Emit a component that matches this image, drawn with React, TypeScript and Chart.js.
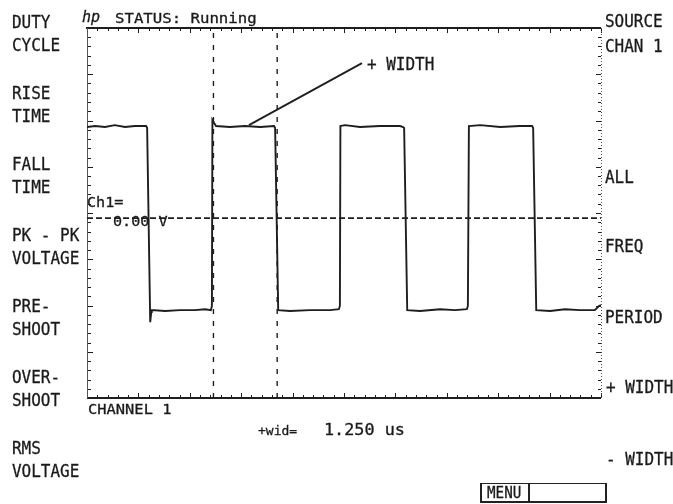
import React, { useEffect, useRef } from "react";
import { Chart, registerables } from "chart.js";

Chart.register(...registerables);

// ---- data (time in microseconds, level in volts) ----
const waveTime = [
  0.0, 0.16, 0.35, 0.54, 0.74, 0.93, 1.15, 1.17, 1.23, 1.25, 1.26, 1.52, 1.81, 2.1, 2.3, 2.41, 2.43,
  2.44, 2.47, 2.51, 2.78, 3.07, 3.37, 3.64, 3.66, 3.72, 3.95, 4.34, 4.73, 4.9, 4.92, 4.93, 5.02, 5.31,
  5.7, 6.09, 6.15, 6.17, 6.23, 6.48, 6.87, 7.16, 7.39, 7.41, 7.43, 7.65, 8.04, 8.42, 8.66, 8.68, 8.74,
  9.01, 9.3, 9.59, 9.88, 9.96, 10.0,
];
const waveVolt = [
  1.86, 1.88, 1.86, 1.9, 1.86, 1.88, 1.88, 1.84, -2.36, -2.14, -2.1, -2.12, -2.1, -2.1, -2.08, -2.1, -2.01,
  2.01, 1.95, 1.88, 1.86, 1.88, 1.86, 1.88, 1.84, -2.1, -2.12, -2.1, -2.1, -2.08, -2.01, 1.88, 1.9, 1.86,
  1.88, 1.88, 1.86, 1.84, -2.1, -2.12, -2.08, -2.1, -2.08, -2.01, 1.88, 1.9, 1.86, 1.88, 1.88, 1.84, -2.1,
  -2.12, -2.08, -2.1, -2.1, -2.01, -1.99,
];
const markerTimes = [2.46, 3.7];
const levelVolt = -0.11;
const leaderTime = [3.15, 5.35];
const leaderVolt = [1.9, 3.24];
const timeRange = [0, 10];
const voltRange = [-4, 4];

const leftMenu = [
  ["DUTY", "CYCLE"],
  ["RISE", "TIME"],
  ["FALL", "TIME"],
  ["PK - PK", "VOLTAGE"],
  ["PRE-", "SHOOT"],
  ["OVER-", "SHOOT"],
  ["RMS", "VOLTAGE"],
];
const rightMenu = ["SOURCE", "CHAN 1", "ALL", "FREQ", "PERIOD", "+ WIDTH", "- WIDTH"];

const INK = "#1e1e1e";

const graticule = {
  id: "graticule",
  beforeDatasetsDraw(chart: any) {
    const { ctx, chartArea, scales } = chart;
    const { left, right, top, bottom } = chartArea;
    const x = scales.x;
    const y = scales.y;
    ctx.save();
    ctx.strokeStyle = INK;
    ctx.lineWidth = 1;
    ctx.beginPath();
    for (let i = 0; i <= 50; i++) {
      const px = Math.round(x.getPixelForValue(timeRange[0] + i * 0.2)) + 0.5;
      const len = i % 5 === 0 ? 5 : 3;
      ctx.moveTo(px, top);
      ctx.lineTo(px, top + len);
      ctx.moveTo(px, bottom);
      ctx.lineTo(px, bottom - len);
    }
    for (let i = 0; i <= 40; i++) {
      const py = Math.round(y.getPixelForValue(voltRange[0] + i * 0.2)) + 0.5;
      const len = i % 5 === 0 ? 6 : 4;
      ctx.moveTo(left, py);
      ctx.lineTo(left + len, py);
      ctx.moveTo(right, py);
      ctx.lineTo(right - len + 1, py);
    }
    ctx.stroke();
    // frame
    ctx.lineWidth = 2;
    ctx.beginPath();
    ctx.moveTo(left - 1, top);
    ctx.lineTo(right, top);
    ctx.moveTo(left, bottom);
    ctx.lineTo(right, bottom);
    ctx.stroke();
    ctx.lineWidth = 1;
    ctx.strokeStyle = "#555";
    ctx.beginPath();
    ctx.moveTo(left + 0.5, top);
    ctx.lineTo(left + 0.5, bottom);
    ctx.stroke();
    ctx.setLineDash([1, 2]);
    ctx.beginPath();
    ctx.moveTo(right + 0.5, top);
    ctx.lineTo(right + 0.5, bottom);
    ctx.stroke();
    ctx.restore();
  },
};

function T(props: { x: number; y: number; s: number; sx?: number; sy?: number; text: string; italic?: boolean }) {
  const { x, y, s, sx = 1, sy = 1, text, italic } = props;
  return (
    <div
      style={{
        position: "absolute",
        left: x,
        top: y - s / 2,
        fontSize: s,
        lineHeight: `${s}px`,
        height: s,
        whiteSpace: "pre",
        transform: `scale(${sx},${sy})`,
        transformOrigin: "0 50%",
        color: "#1a1a1a",
        fontStyle: italic ? "italic" : "normal",
        WebkitTextStroke: "0.3px #1a1a1a",
      }}
    >
      {text}
    </div>
  );
}

export default function App() {
  const ref = useRef<HTMLCanvasElement | null>(null);
  useEffect(() => {
    if (!ref.current) return;
    const wave = waveTime.map((t, i) => ({ x: t, y: waveVolt[i] }));
    const chart = new Chart(ref.current, {
      type: "line",
      data: {
        datasets: [
          {
            data: wave,
            borderColor: INK,
            borderWidth: 1.9,
            pointRadius: 0,
            tension: 0,
          },
          {
            data: timeRange.map((t) => ({ x: t, y: levelVolt })),
            borderColor: INK,
            borderWidth: 1.6,
            borderDash: [6, 3],
            pointRadius: 0,
          },
          ...markerTimes.map((t) => ({
            data: voltRange.map((v) => ({ x: t, y: v })),
            borderColor: INK,
            borderWidth: 1.4,
            borderDash: [5, 7],
            pointRadius: 0,
          })),
          {
            data: leaderTime.map((t, i) => ({ x: t, y: leaderVolt[i] })),
            borderColor: INK,
            borderWidth: 1.8,
            pointRadius: 0,
          },
        ] as any,
      },
      options: {
        animation: false,
        responsive: false,
        maintainAspectRatio: false,
        layout: { padding: { left: 87, right: 72, top: 28, bottom: 106 } },
        scales: {
          x: { type: "linear", min: timeRange[0], max: timeRange[1], display: false },
          y: { type: "linear", min: voltRange[0], max: voltRange[1], display: false },
        },
        plugins: { legend: { display: false }, tooltip: { enabled: false } },
        events: [],
      },
      plugins: [graticule],
    });
    return () => chart.destroy();
  }, []);

  const leftY = [22, 93, 164, 235, 306, 377, 448];
  const rightY = [21, 46, 177, 246, 317, 387, 459];
  const ms = 17;
  const msx = 0.94;

  return (
    <div
      style={{
        position: "fixed",
        left: 0,
        top: 0,
        width: 673,
        height: 504,
        background: "#ffffff",
        fontFamily: "'DejaVu Sans Mono', monospace",
        overflow: "hidden",
      }}
    >
      <canvas ref={ref} width={673} height={504} style={{ position: "absolute", left: 0, top: 0 }} />
      {leftMenu.map((pair, i) => (
        <React.Fragment key={"l" + i}>
          <T x={12} y={leftY[i]} s={ms} sx={msx} text={pair[0]} />
          <T x={12} y={leftY[i] + 23} s={ms} sx={msx} text={pair[1]} />
        </React.Fragment>
      ))}
      {rightMenu.map((txt, i) => (
        <T key={"r" + i} x={txt.startsWith("+") || txt.startsWith("-") ? 606 : 605} y={rightY[i]} s={ms} sx={msx} text={txt} />
      ))}
      <T x={82} y={17} s={15} sx={1.0} text="hp" italic />
      <T x={115} y={18} s={14} sx={1.12} text="STATUS: Running" />
      <T x={367} y={64} s={ms} sx={msx} text="+ WIDTH" />
      <T x={87} y={202} s={14} sx={1.08} text="Ch1=" />
      <T x={113} y={221} s={14} sx={1.08} text="0.00 V" />
      <T x={88} y={409} s={14} sx={1.1} text="CHANNEL 1" />
      <T x={258} y={430} s={13} sx={1.0} text="+wid=" />
      <T x={324} y={430} s={15} sx={1.12} text="1.250 us" />
      <div
        style={{
          position: "absolute",
          left: 480,
          top: 483,
          width: 123,
          height: 17,
          border: "2px solid #222",
          borderTopWidth: 1,
        }}
      />
      <div style={{ position: "absolute", left: 528, top: 483, width: 1.5, height: 20, background: "#222" }} />
      <T x={487} y={493} s={15} sx={0.95} text="MENU" />
    </div>
  );
}
